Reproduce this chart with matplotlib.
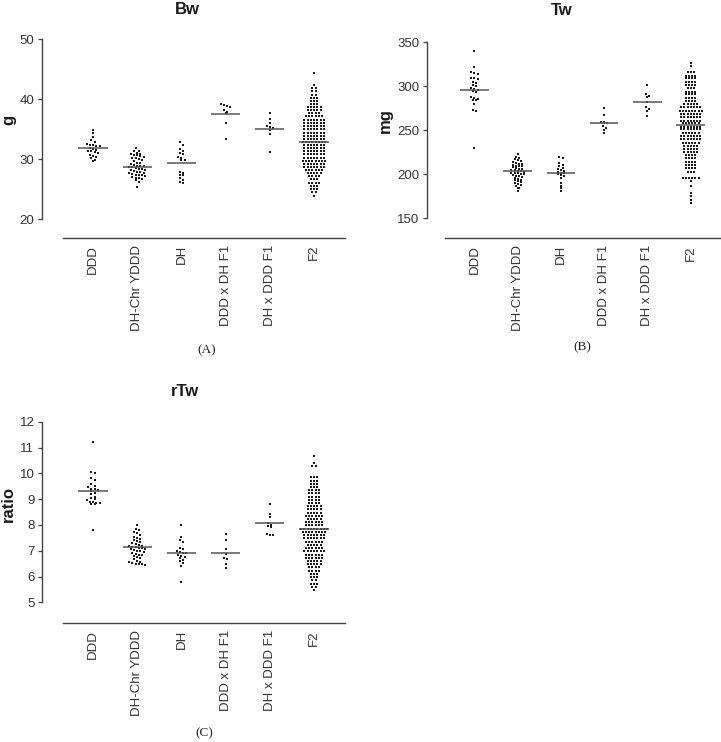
#Column scatter (Prism style) of Bw, Tw and rTw for the six groups
import numpy as np
import matplotlib.pyplot as plt

plt.rcParams['font.family'] = ['Liberation Sans', 'DejaVu Sans']

groups = ['DDD', 'DH-Chr YDDD', 'DH', 'DDD x DH F1', 'DH x DDD F1', 'F2']

#Bw (g)
bw_ddd = [34.8, 34.3, 33.6, 33.1, 32.9, 32.5, 32.4, 32.3, 32.2, 32.1, 31.9, 31.7,
          31.5, 31.4, 31.3, 31.1, 31.0, 30.6, 30.5, 30.3, 30.1, 29.8, 29.6]
bw_dhchr = [31.8, 31.4, 31.3, 31.0, 30.9, 30.8, 30.6, 30.6, 30.5, 30.4, 30.2, 30.1,
            30.0, 29.8, 29.7, 29.4, 29.3, 29.2, 29.0, 28.9, 28.9, 28.8, 28.6, 28.6,
            28.5, 28.4, 28.3, 28.2, 28.1, 28.0, 27.9, 27.8, 27.7, 27.6, 27.5, 27.4,
            27.4, 27.3, 27.2, 27.0, 26.9, 26.8, 26.6, 26.5, 26.2, 25.3]
bw_dh = [32.8, 32.4, 31.6, 31.3, 31.0, 30.8, 30.3, 30.1, 29.9, 29.8, 27.9, 27.6,
         27.4, 27.3, 26.8, 26.5, 26.2, 26.0]
bw_f1a = [39.1, 39.0, 38.9, 38.7, 38.2, 37.8, 37.6, 36.0, 33.3]
bw_f1b = [37.6, 36.6, 36.0, 35.5, 35.4, 35.2, 34.9, 34.2, 31.1]
bw_f2_levels = [44.4, 42.3, 41.8, 41.3, 40.7, 40.2, 39.7, 39.2, 38.6, 38.1,
                37.6, 37.1, 36.5, 36.0, 35.5, 35.0, 34.4, 33.9, 33.4, 32.9,
                32.3, 31.8, 31.3, 30.8, 30.2, 29.7, 29.2, 28.7, 28.1, 27.6,
                27.1, 26.6, 26.0, 25.5, 25.0, 24.5, 23.8]
bw_f2_counts = [1, 1, 2, 2, 2, 3, 3, 3, 5, 5,
                4, 6, 7, 7, 7, 7, 7, 7, 7, 8,
                7, 7, 7, 7, 7, 8, 7, 7, 6, 5,
                4, 3, 4, 3, 3, 2, 1]
bw_means = [31.8, 28.6, 29.3, 37.5, 35.0, 32.8]

#Tw (mg)
tw_ddd = [340, 322, 316, 315, 314, 310, 309, 308, 305, 304, 302, 300, 298, 297,
          296, 295, 293, 288, 287, 286, 285, 284, 280, 273, 272, 230]
tw_dhchr = [223, 220, 219, 217, 216, 215, 214, 213, 212, 212, 211, 210, 209, 209,
            208, 207, 206, 206, 205, 205, 204, 204, 203, 202, 202, 201, 200, 200,
            199, 198, 198, 197, 196, 195, 194, 193, 192, 191, 190, 189, 188, 187,
            185, 184, 181]
tw_dh = [220, 219, 213, 211, 209, 207, 206, 205, 204, 203, 202, 201, 200, 199,
         198, 196, 190, 187, 184, 181]
tw_f1a = [275, 267, 260, 259, 258, 255, 253, 250, 247]
tw_f1b = [302, 291, 289, 288, 282, 276, 274, 272, 266]
tw_f2_levels = [327, 323, 316, 312, 309, 305, 301, 298, 294, 291,
                287, 283, 280, 276, 272, 269, 265, 261, 258, 254,
                251, 247, 243, 240, 236, 232, 229, 225, 222, 218,
                214, 211, 207, 203, 196, 192, 187, 179, 175, 171, 167]
tw_f2_counts = [1, 1, 3, 4, 4, 4, 4, 3, 4, 4,
                4, 4, 5, 7, 8, 7, 7, 7, 6, 7,
                7, 6, 7, 7, 6, 5, 5, 5, 4, 4,
                4, 4, 4, 3, 6, 1, 1, 1, 1, 1, 1]
tw_means = [296, 204, 202, 258, 282, 256]

#rTw (ratio)
rtw_ddd = [11.2, 10.05, 10.0, 9.8, 9.75, 9.6, 9.5, 9.45, 9.4, 9.4, 9.35, 9.3, 9.25,
           9.2, 9.1, 9.05, 9.0, 8.95, 8.9, 8.9, 8.85, 8.85, 8.8, 8.8, 7.8]
rtw_dhchr = [7.98, 7.85, 7.80, 7.72, 7.68, 7.62, 7.55, 7.50, 7.46, 7.42, 7.38, 7.34,
             7.30, 7.26, 7.24, 7.20, 7.18, 7.16, 7.14, 7.12, 7.10, 7.08, 7.05, 7.03,
             7.00, 6.98, 6.95, 6.92, 6.88, 6.85, 6.82, 6.78, 6.75, 6.70, 6.66, 6.62,
             6.58, 6.55, 6.52, 6.50, 6.48, 6.47, 6.46]
rtw_dh = [7.98, 7.52, 7.40, 7.33, 7.12, 7.05, 7.0, 6.95, 6.9, 6.9, 6.85, 6.78, 6.75,
          6.7, 6.65, 6.6, 6.52, 6.4, 5.8]
rtw_f1a = [7.66, 7.42, 7.06, 6.88, 6.7, 6.68, 6.5, 6.34]
rtw_f1b = [8.82, 8.44, 8.30, 8.06, 7.98, 7.94, 7.9, 7.66, 7.62, 7.6]
rtw_f2_levels = [10.68, 10.40, 10.28, 9.85, 9.72, 9.60, 9.48, 9.35, 9.22, 9.10,
                 8.98, 8.85, 8.72, 8.60, 8.48, 8.35, 8.22, 8.10, 7.98, 7.85,
                 7.72, 7.60, 7.48, 7.35, 7.22, 7.10, 6.98, 6.85, 6.72, 6.60,
                 6.48, 6.35, 6.22, 6.10, 5.98, 5.85, 5.72, 5.60, 5.48]
rtw_f2_counts = [1, 1, 2, 3, 3, 3, 3, 4, 4, 4,
                 4, 4, 5, 5, 5, 6, 5, 6, 6, 9,
                 8, 7, 7, 6, 5, 6, 7, 6, 6, 5,
                 5, 4, 4, 3, 3, 2, 3, 2, 1]
rtw_means = [9.31, 7.13, 6.92, 6.92, 8.07, 7.84]

W, H = 721, 742


def swarm_offsets(vals, row_h, dx):
    # put points of similar value side by side, centred on the column
    vals = np.asarray(vals, float)
    order = np.argsort(-vals, kind='stable')
    offs = np.zeros(len(vals))
    rows, cur, start = [], [], None
    for i in order:
        if start is None or vals[i] < start - row_h * 0.8:
            if cur:
                rows.append(cur)
            cur, start = [i], vals[i]
        else:
            cur.append(i)
    rows.append(cur)
    for r in rows:
        n = len(r)
        for k, i in enumerate(r):
            offs[i] = (k - (n - 1) / 2.0) * dx
    return offs


def panel(rect_px, data, means, row_h, yticks, left_out, bottom_out):
    x0, x1, ytop, ybot = rect_px
    ax = fig.add_axes([x0 / W, 1 - ybot / H, (x1 - x0) / W, (ybot - ytop) / H])
    # spines first: moving them rebuilds the ticks
    for s in ['top', 'right']:
        ax.spines[s].set_visible(False)
    ax.spines['left'].set_position(('outward', left_out * 0.72))
    ax.spines['bottom'].set_position(('outward', bottom_out * 0.72))
    for s in ['left', 'bottom']:
        ax.spines[s].set_color('#444444')
        ax.spines[s].set_linewidth(1.0)
    for i, vals in enumerate(data):
        offs = swarm_offsets(vals, row_h, 0.073)
        ax.plot(i + offs, vals, 's', ms=1.75, mew=0, color='#1a1a1a', clip_on=False, zorder=2)
        ax.plot([i - 0.33, i + 0.33], [means[i], means[i]], color='#555555', lw=1.1,
                solid_capstyle='butt', zorder=3)
    ax.set_xlim(-0.68, 5.7)
    ax.set_ylim(yticks[0], yticks[-1])
    ax.set_yticks(yticks)
    ax.set_xticks(range(len(groups)))
    ax.set_xticklabels(groups)
    ax.tick_params(axis='y', length=3, width=0.9, color='#444444', pad=2.5,
                   labelsize=9.5, labelcolor='#333333')
    ax.tick_params(axis='x', length=0, pad=5, labelsize=9.5, labelcolor='#333333',
                   labelrotation=90)
    for lab in ax.get_xticklabels():
        lab.set_va('top')
        lab.set_ha('center')
    ax.patch.set_visible(False)
    return ax


def ftext(x, y, s, **kw):
    fig.text(x / W, 1 - y / H, s, ha='center', va='center', **kw)


fig = plt.figure(figsize=(W / 100, H / 100), dpi=100)

bw_f2 = np.repeat(bw_f2_levels, bw_f2_counts)
tw_f2 = np.repeat(tw_f2_levels, tw_f2_counts)
rtw_f2 = np.repeat(rtw_f2_levels, rtw_f2_counts)

#row height = one dot pitch (about 3 px) in data units of each panel
panel((63, 345, 39, 219), [bw_ddd, bw_dhchr, bw_dh, bw_f1a, bw_f1b, bw_f2],
      bw_means, 0.53, [20, 30, 40, 50], 21, 19)
panel((445, 721, 42.3, 218.3), [tw_ddd, tw_dhchr, tw_dh, tw_f1a, tw_f1b, tw_f2],
      tw_means, 3.64, [150, 200, 250, 300, 350], 18, 20)
panel((63, 345, 421.7, 602.3), [rtw_ddd, rtw_dhchr, rtw_dh, rtw_f1a, rtw_f1b, rtw_f2],
      rtw_means, 0.125, list(range(5, 13)), 21, 21)

#titles and axis names
tkw = dict(fontsize=12, fontweight='bold', color='#1a1a1a')
ftext(187, 9, 'Bw', **tkw)
ftext(561.5, 10.5, 'Tw', **tkw)
ftext(184.5, 391, 'rTw', **tkw)
ftext(9, 120, 'g', rotation=90, **tkw)
ftext(385, 121, 'mg', rotation=90, **tkw)
ftext(8.5, 504, 'ratio', rotation=90, **tkw)

#panel letters
lkw = dict(fontsize=9.5, family='Liberation Serif', color='#222222')
ftext(207, 350, '(A)', **lkw)
ftext(582, 347, '(B)', **lkw)
ftext(204, 733, '(C)', **lkw)

plt.savefig('out.png', dpi=100)
plt.close()
